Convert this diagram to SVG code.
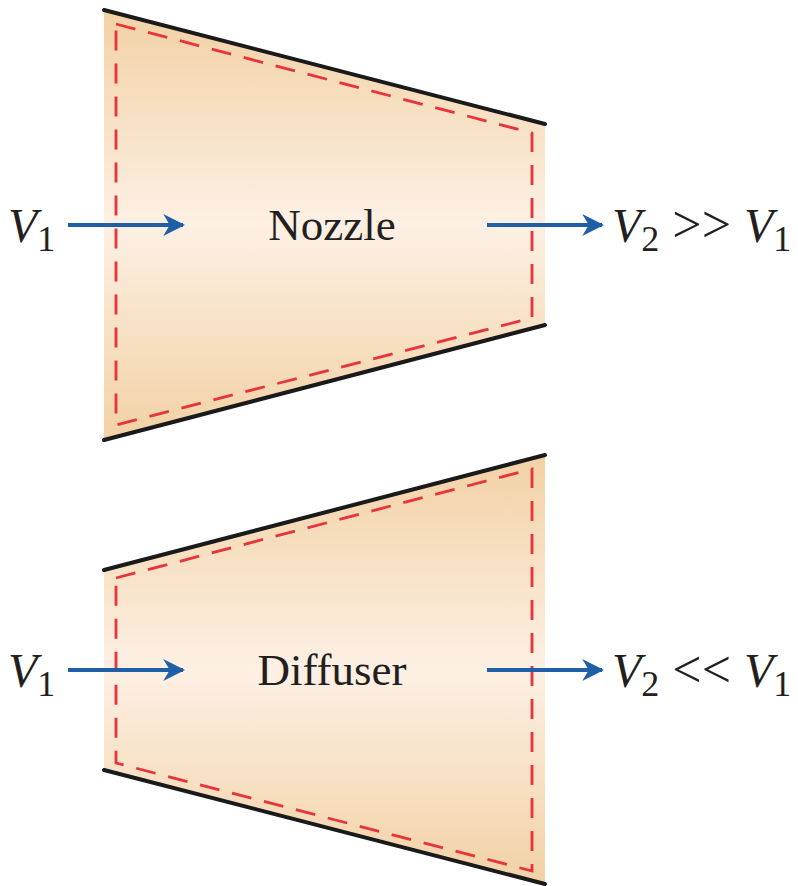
<svg xmlns="http://www.w3.org/2000/svg" width="798" height="886" viewBox="0 0 798 886">
<defs>
<linearGradient id="gN" x1="0" y1="10" x2="0" y2="440" gradientUnits="userSpaceOnUse">
<stop offset="0" stop-color="#F2D1A4"/><stop offset="0.5" stop-color="#FDF0E4"/><stop offset="1" stop-color="#F2D1A4"/>
</linearGradient>
<linearGradient id="gD" x1="0" y1="455" x2="0" y2="884" gradientUnits="userSpaceOnUse">
<stop offset="0" stop-color="#F2D1A4"/><stop offset="0.5" stop-color="#FDF0E4"/><stop offset="1" stop-color="#F2D1A4"/>
</linearGradient>
<marker id="ah" viewBox="0 0 10 10" refX="9" refY="5" markerWidth="5.5" markerHeight="5.5" markerUnits="strokeWidth" orient="auto">
<path d="M0,0 L10,5 L0,10 L3,5 Z" fill="#1F5FA8"/>
</marker>
<style>
.wall{stroke:#1a1a1a;stroke-width:4;fill:none;stroke-linecap:round}
.cv{stroke:#E8333A;stroke-width:2.8;fill:none;stroke-dasharray:20 13}
.arr{stroke:#1F5FA8;stroke-width:4;fill:none;marker-end:url(#ah)}
.t{font-family:"Liberation Serif","Times New Roman",serif;fill:#231f20}
.v{font-style:italic;font-size:48px}
.s{font-size:36px}
.lbl{font-size:45px}
.op{font-size:52px}
</style>
</defs>
<g id="nozzle">
<polygon points="104,10 545,124 545,325 104,440" fill="url(#gN)"/>
<line class="wall" x1="104" y1="10" x2="545" y2="124"/>
<line class="wall" x1="104" y1="440" x2="545" y2="325"/>
<polygon class="cv" points="116,24 532,133 532,318 116,425"/>
<text class="t lbl" x="332" y="240" text-anchor="middle">Nozzle</text>
</g>
<g id="diffuser">
<polygon points="104,570 545,455 545,884 104,770" fill="url(#gD)"/>
<line class="wall" x1="104" y1="570" x2="545" y2="455"/>
<line class="wall" x1="104" y1="770" x2="545" y2="884"/>
<polygon class="cv" points="116,578 532,469 532,871 116,763"/>
<text class="t lbl" x="332" y="685" text-anchor="middle">Diffuser</text>
</g>
<g id="labels">
<text class="t" x="8" y="242"><tspan class="v">V</tspan><tspan class="s" dy="9">1</tspan></text>
<text class="t" x="612" y="242"><tspan class="v">V</tspan><tspan class="s" dy="9">2</tspan><tspan class="op" dy="-9"> &gt;&gt; </tspan><tspan class="v">V</tspan><tspan class="s" dy="9">1</tspan></text>
<text class="t" x="8" y="687"><tspan class="v">V</tspan><tspan class="s" dy="9">1</tspan></text>
<text class="t" x="612" y="687"><tspan class="v">V</tspan><tspan class="s" dy="9">2</tspan><tspan class="op" dy="-9"> &lt;&lt; </tspan><tspan class="v">V</tspan><tspan class="s" dy="9">1</tspan></text>
</g>
<g id="connectors">
<line class="arr" x1="68" y1="225" x2="183" y2="225"/>
<line class="arr" x1="487" y1="225" x2="602" y2="225"/>
<line class="arr" x1="68" y1="670" x2="183" y2="670"/>
<line class="arr" x1="487" y1="670" x2="602" y2="670"/>
</g>
</svg>
